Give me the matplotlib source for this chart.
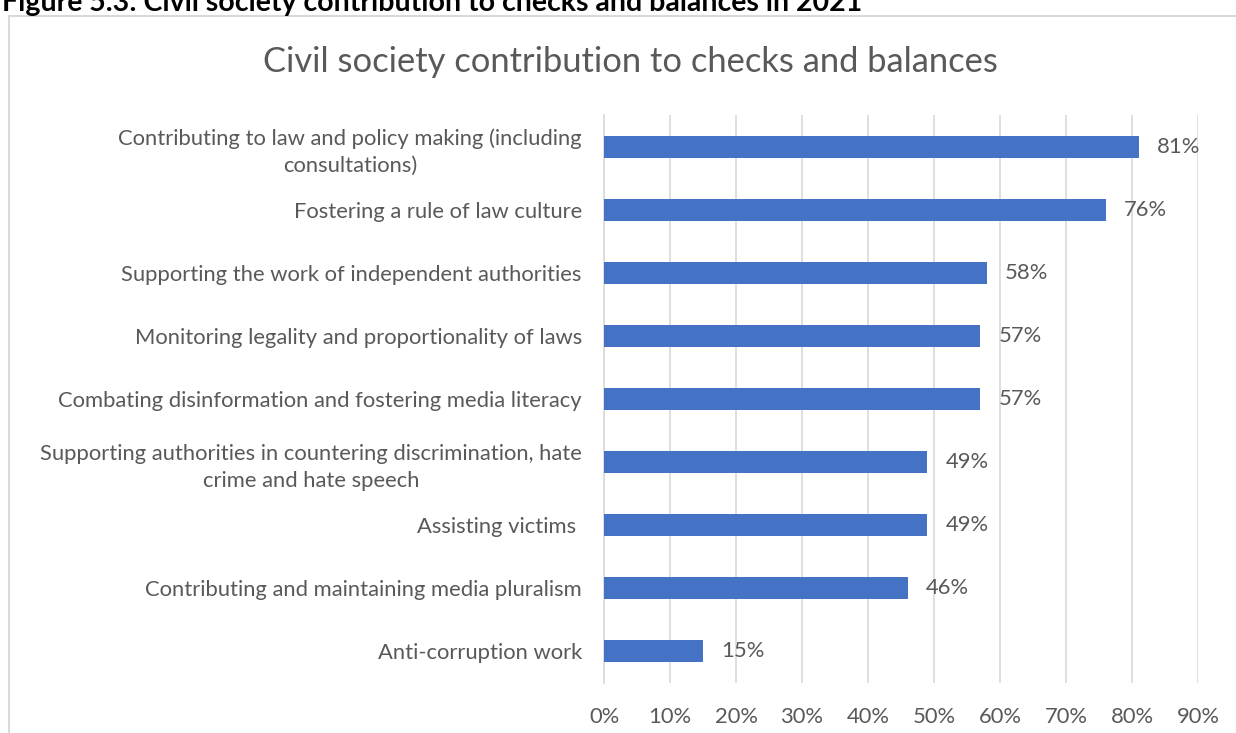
import matplotlib.pyplot as plt
from matplotlib.patches import Rectangle

categories = [
    'Contributing to law and policy making (including\nconsultations)',
    'Fostering a rule of law culture',
    'Supporting the work of independent authorities',
    'Monitoring legality and proportionality of laws',
    'Combating disinformation and fostering media literacy',
    'Supporting authorities in countering discrimination, hate\ncrime and hate speech',
    'Assisting victims ',
    'Contributing and maintaining media pluralism',
    'Anti-corruption work',
]
values = [81, 76, 58, 57, 57, 49, 49, 46, 15]
xticks = [0, 10, 20, 30, 40, 50, 60, 70, 80, 90]

plt.rcParams['font.family'] = ['Lato', 'DejaVu Sans']
text_color = '#595959'
grid_color = '#d9d9d9'
bar_color = '#4472c4'
fs = 15.8

fig = plt.figure(figsize=(12.36, 7.33), dpi=100)

# outer chart frame
fig.patches.append(Rectangle((9 / 1236, -0.1), 1.2, (733 - 16) / 733 + 0.1,
                             transform=fig.transFigure, fill=False,
                             edgecolor=grid_color, linewidth=1.5))

fig.text(2 / 1236, 1 - 11 / 733, 'Figure 5.3: Civil society contribution to checks and balances in 2021',
         fontsize=20.5, fontweight='bold', color='black', va='baseline', ha='left')

ax = fig.add_axes([604 / 1236, 50 / 733, 594 / 1236, 568 / 733])
y = list(range(len(categories)))
ax.barh(y, values, height=0.35, color=bar_color, zorder=3)
ax.set_ylim(len(categories) - 0.5, -0.5)
ax.set_xlim(0, 90)
ax.set_xticks(xticks)
ax.set_xticklabels([f'{t}%' for t in xticks])
ax.set_yticks(y)
ax.set_yticklabels(categories)
for lbl in ax.get_yticklabels():
    lbl.set_multialignment('center')
    lbl.set_linespacing(1.45)

ax.grid(axis='x', color=grid_color, linewidth=1.2, zorder=0)
for s in ['top', 'right', 'bottom']:
    ax.spines[s].set_visible(False)
ax.spines['left'].set_color(grid_color)
ax.spines['left'].set_linewidth(1.2)
ax.tick_params(axis='both', length=0, labelsize=fs, colors=text_color)
ax.tick_params(axis='y', pad=16)
ax.tick_params(axis='x', pad=17)

for yi, v in zip(y, values):
    ax.annotate(f'{v}%', (v, yi), xytext=(13, 0), textcoords='offset points',
                va='center', ha='left', fontsize=fs, color=text_color)

fig.text(630 / 1236, 1 - 62 / 733, 'Civil society contribution to checks and balances',
         fontsize=24.8, color=text_color, ha='center', va='center')

fig.savefig('out.png', dpi=100)
